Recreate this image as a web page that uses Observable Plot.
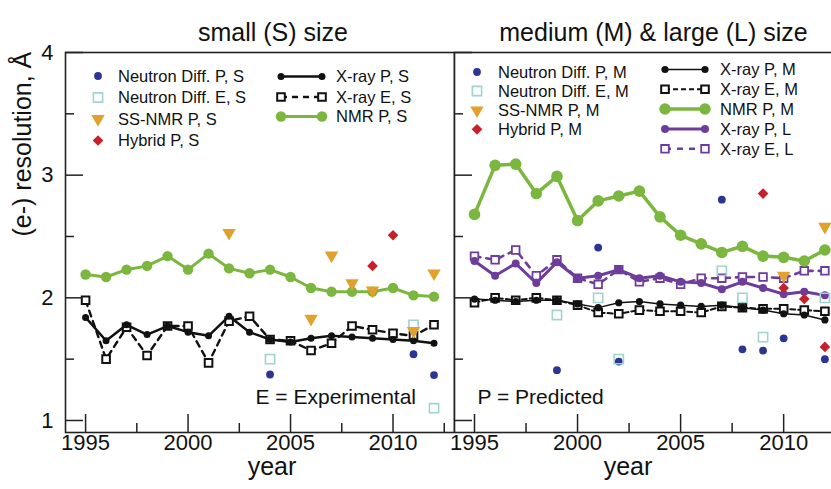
<!DOCTYPE html>
<html>
<head>
<meta charset="utf-8">
<script src="https://cdn.jsdelivr.net/npm/d3@7"></script>
<script src="https://cdn.jsdelivr.net/npm/@observablehq/plot@0.6"></script>
<style>
html, body { margin: 0; padding: 0; background: #fff; overflow: hidden; }
#chart { display: flex; flex-direction: row; width: 831px; height: 489px; overflow: hidden; }
#chart svg { flex: none; max-width: none; }
</style>
</head>
<body>
<div id="chart"></div>
<script>
const FONT = '"Liberation Sans", Arial, Helvetica, sans-serif';

// ---------- data ----------
const years = [1995, 1996, 1997, 1998, 1999, 2000, 2001, 2002, 2003, 2004, 2005, 2006, 2007, 2008, 2009, 2010, 2011, 2012];
const yTicks = [1, 2, 3, 4];
const yMinor = [1.5, 2.5, 3.5];
const xTicks = [1995, 2000, 2005, 2010];
const xMinor = [1997.5, 2002.5, 2007.5, 2012.5];

// small (S) size
const nmrPS  = [2.19, 2.17, 2.23, 2.26, 2.34, 2.23, 2.36, 2.24, 2.20, 2.23, 2.17, 2.08, 2.05, 2.05, 2.05, 2.08, 2.02, 2.01];
const xrayPS = [1.84, 1.65, 1.78, 1.70, 1.77, 1.72, 1.69, 1.85, 1.72, 1.66, 1.64, 1.67, 1.69, 1.68, 1.67, 1.66, 1.65, 1.63];
const xrayES = [1.98, 1.50, 1.76, 1.53, 1.77, 1.77, 1.47, 1.81, 1.85, 1.66, 1.65, 1.57, 1.63, 1.77, 1.74, 1.71, 1.69, 1.78];
const neutronPSYears = [2004, 2011, 2012];
const neutronPS      = [1.375, 1.54, 1.37];
const neutronESYears = [2004, 2011, 2012];
const neutronES      = [1.50, 1.78, 1.10];
const ssnmrPSYears = [2002, 2006, 2007, 2008, 2009, 2011, 2012];
const ssnmrPS      = [2.53, 1.83, 2.345, 2.12, 2.06, 1.73, 2.20];
const hybridPSYears = [2009, 2010];
const hybridPS      = [2.26, 2.51];

// medium (M) & large (L) size
const nmrPM  = [2.68, 3.08, 3.09, 2.85, 2.99, 2.63, 2.79, 2.83, 2.87, 2.66, 2.51, 2.44, 2.37, 2.42, 2.34, 2.33, 2.30, 2.39];
const xrayPM = [1.99, 1.98, 1.97, 1.98, 1.98, 1.95, 1.92, 1.96, 1.97, 1.95, 1.94, 1.93, 1.94, 1.92, 1.90, 1.87, 1.86, 1.82];
const xrayEM = [1.96, 2.00, 1.98, 2.00, 1.98, 1.94, 1.88, 1.87, 1.90, 1.89, 1.89, 1.88, 1.93, 1.92, 1.91, 1.91, 1.90, 1.89];
const xrayPL = [2.30, 2.18, 2.28, 2.12, 2.29, 2.16, 2.18, 2.23, 2.16, 2.18, 2.13, 2.12, 2.07, 2.13, 2.08, 2.03, 2.05, 2.02];
const xrayEL = [2.34, 2.31, 2.39, 2.18, 2.31, 2.16, 2.11, 2.23, 2.13, 2.16, 2.11, 2.16, 2.16, 2.17, 2.17, 2.16, 2.22, 2.22];
const neutronPMYears = [1999, 2001, 2002, 2007, 2008, 2009, 2010, 2012];
const neutronPM      = [1.41, 2.41, 1.48, 2.80, 1.58, 1.57, 1.67, 1.50];
const neutronEMYears = [1999, 2001, 2002, 2007, 2008, 2009, 2012];
const neutronEM      = [1.86, 2.00, 1.50, 2.22, 2.00, 1.68, 2.00];
const ssnmrPMYears = [2010, 2012];
const ssnmrPM      = [2.18, 2.58];
const hybridPMYears = [2009, 2010, 2011, 2012];
const hybridPM      = [2.85, 2.08, 1.99, 1.60];

const titles = ["small (S) size", "medium (M) & large (L) size"];
const xLabel = "year";
const yLabel = "(e-) resolution, Å";
const notes = ["E = Experimental", "P = Predicted"];

// ---------- styles ----------
const C = {green: "#7bb63f", navy: "#2c3593", teal: "#9fd4d1", orange: "#e2a12c", red: "#c8202a", purple: "#6e3d9b", black: "#111", axis: "#222"};
const ST = {
  neutronP: {symbol: "circle", r: 3.9, fill: C.navy},
  neutronE: {symbol: "square", r: 5.2, fill: "none", markerStroke: C.teal, markerStrokeWidth: 1.6},
  ssnmr:    {symbol: "triangle", r: 5, fill: C.orange, rotate: 180},
  hybrid:   {symbol: "diamond2", r: 4.8, fill: C.red},
  xrayPS:   {stroke: C.black, strokeWidth: 2.5, symbol: "circle", r: 3.5, fill: C.black},
  xrayES:   {stroke: C.black, strokeWidth: 2.4, dash: "6,5", symbol: "square", r: 4.3, fill: "white", markerStroke: C.black, markerStrokeWidth: 2},
  nmrPS:    {stroke: C.green, strokeWidth: 3, symbol: "circle", r: 5.2, fill: C.green},
  xrayPM:   {stroke: C.black, strokeWidth: 1.5, symbol: "circle", r: 3.6, fill: C.black},
  xrayEM:   {stroke: C.black, strokeWidth: 2, dash: "5,3", symbol: "square", r: 4.3, fill: "white", markerStroke: C.black, markerStrokeWidth: 2},
  nmrPM:    {stroke: C.green, strokeWidth: 3.5, symbol: "circle", r: 5.8, fill: C.green},
  xrayPL:   {stroke: C.purple, strokeWidth: 3, symbol: "circle", r: 4, fill: C.purple},
  xrayEL:   {stroke: C.purple, strokeWidth: 2.6, dash: "6,6", symbol: "square", r: 4.3, fill: "white", markerStroke: C.purple, markerStrokeWidth: 1.8}
};

const zip = (xs, vs) => xs.map((year, i) => ({year, value: vs[i]}));

function dots(data, s) {
  return Plot.dot(data, {x: "year", y: "value", symbol: s.symbol, r: s.r, fill: s.fill,
    stroke: s.markerStroke || "none", strokeWidth: s.markerStrokeWidth || 0, rotate: s.rotate || 0});
}
function series(data, s) {
  return [
    Plot.line(data, {x: "year", y: "value", stroke: s.stroke, strokeWidth: s.strokeWidth, strokeDasharray: s.dash || null}),
    dots(data, s)
  ];
}

const SYM = {circle: d3.symbolCircle, square: d3.symbolSquare, triangle: d3.symbolTriangle, diamond2: d3.symbolDiamond2};
function drawSymbol(g, x, y, s) {
  g.append("path")
    .attr("d", d3.symbol(SYM[s.symbol], Math.PI * s.r * s.r)())
    .attr("transform", `translate(${x},${y}) rotate(${s.rotate || 0})`)
    .attr("fill", s.fill)
    .attr("stroke", s.markerStroke || "none")
    .attr("stroke-width", s.markerStrokeWidth || 0);
}
function legendMark(items) {
  return () => {
    const g = d3.create("svg:g").attr("font-family", FONT).attr("font-size", 16.5)
      .attr("fill", "#111").attr("text-anchor", "start");
    for (const it of items) {
      if (it.x1 != null) {
        g.append("line").attr("x1", it.x1).attr("x2", it.x2).attr("y1", it.y).attr("y2", it.y)
          .attr("stroke", it.s.stroke).attr("stroke-width", it.s.strokeWidth)
          .attr("stroke-dasharray", it.s.dash || null);
        drawSymbol(g, it.x1, it.y, it.s);
        drawSymbol(g, it.x2, it.y, it.s);
      } else {
        drawSymbol(g, it.mx, it.y, it.s);
      }
      g.append("text").attr("x", it.tx).attr("y", it.y).attr("dy", "0.35em")
        .attr("text-anchor", "start").text(it.label);
    }
    return g.node();
  };
}

function frameMarks(plotW, plotH, withYLabels) {
  const m = [
    Plot.frame({stroke: C.axis, strokeWidth: 1.6}),
    Plot.tickY(yTicks, {stroke: C.axis, strokeWidth: 1.5, insetRight: plotW - 18}),
    Plot.tickY(yMinor, {stroke: C.axis, strokeWidth: 1.5, insetRight: plotW - 9}),
    Plot.tickX(xTicks, {stroke: C.axis, strokeWidth: 1.5, insetTop: plotH - 18}),
    Plot.tickX(xMinor, {stroke: C.axis, strokeWidth: 1.5, insetTop: plotH - 9}),
    Plot.axisX({ticks: xTicks, tickSize: 0, tickPadding: 2, tickFormat: d => String(d), fontSize: 22, label: null, fill: "#111"})
  ];
  if (withYLabels) m.push(Plot.axisY({ticks: yTicks, tickSize: 0, tickPadding: 12, tickFormat: d => String(d), fontSize: 22, label: null, fill: "#111"}));
  return m;
}

const Y_DOMAIN = [0.902, 4];

// ---------- left panel ----------
const leftW = 454, H = 489, mTop = 52, mBottom = 57;
const left = Plot.plot({
  width: leftW, height: H, marginLeft: 65, marginRight: 0, marginTop: mTop, marginBottom: mBottom,
  style: {fontFamily: FONT, color: "#111"},
  x: {domain: [1994.02, 2013.0]},
  y: {domain: Y_DOMAIN, axis: null},
  marks: [
    ...series(zip(years, xrayES), ST.xrayES),
    ...series(zip(years, xrayPS), ST.xrayPS),
    ...series(zip(years, nmrPS), ST.nmrPS),
    dots(zip(neutronPSYears, neutronPS), ST.neutronP),
    dots(zip(neutronESYears, neutronES), ST.neutronE),
    dots(zip(ssnmrPSYears, ssnmrPS), ST.ssnmr),
    dots(zip(hybridPSYears, hybridPS), ST.hybrid),
    ...frameMarks(leftW - 65, H - mTop - mBottom, true),
    Plot.text([titles[0]], {text: d => d, frameAnchor: "top", dx: 13, dy: -29, fontSize: 25, fill: "#111"}),
    Plot.text([xLabel], {text: d => d, frameAnchor: "bottom", dx: 12, dy: 42, fontSize: 25, fill: "#111"}),
    Plot.text([yLabel], {text: d => d, frameAnchor: "left", dx: -43, dy: -6, rotate: -90, fontSize: 25, fill: "#111"}),
    Plot.text([notes[0]], {text: d => d, frameAnchor: "bottom-left", textAnchor: "start", dx: 190, dy: -29, fontSize: 21, fill: "#111"}),
    legendMark([
      {mx: 98, tx: 118, y: 76, s: ST.neutronP, label: "Neutron Diff. P, S"},
      {mx: 98, tx: 118, y: 97.5, s: ST.neutronE, label: "Neutron Diff. E, S"},
      {mx: 98, tx: 118, y: 119, s: ST.ssnmr, label: "SS-NMR P, S"},
      {mx: 98, tx: 118, y: 140.5, s: ST.hybrid, label: "Hybrid P, S"},
      {x1: 281, x2: 322, tx: 336, y: 76.5, s: ST.xrayPS, label: "X-ray P, S"},
      {x1: 281, x2: 322, tx: 336, y: 97, s: ST.xrayES, label: "X-ray E, S"},
      {x1: 281, x2: 322, tx: 336, y: 116.5, s: ST.nmrPS, label: "NMR P, S"}
    ])
  ]
});

// ---------- right panel ----------
const rightW = 391;
const right = Plot.plot({
  width: rightW, height: H, marginLeft: 0, marginRight: 0, marginTop: mTop, marginBottom: mBottom,
  style: {fontFamily: FONT, color: "#111", overflow: "visible", background: "transparent"},
  x: {domain: [1994.03, 2013.0]},
  y: {domain: Y_DOMAIN, axis: null},
  marks: [
    ...series(zip(years, xrayEM), ST.xrayEM),
    ...series(zip(years, xrayPM), ST.xrayPM),
    ...series(zip(years, xrayEL), ST.xrayEL),
    ...series(zip(years, xrayPL), ST.xrayPL),
    ...series(zip(years, nmrPM), ST.nmrPM),
    dots(zip(neutronPMYears, neutronPM), ST.neutronP),
    dots(zip(neutronEMYears, neutronEM), ST.neutronE),
    dots(zip(ssnmrPMYears, ssnmrPM), ST.ssnmr),
    dots(zip(hybridPMYears, hybridPM), ST.hybrid),
    ...frameMarks(rightW, H - mTop - mBottom, false),
    Plot.text([titles[1]], {text: d => d, frameAnchor: "top", dx: 3.5, dy: -29, fontSize: 25, fill: "#111"}),
    Plot.text([xLabel], {text: d => d, frameAnchor: "bottom", dx: -22, dy: 42, fontSize: 25, fill: "#111"}),
    Plot.text([notes[1]], {text: d => d, frameAnchor: "bottom-left", textAnchor: "start", dx: 23, dy: -29, fontSize: 21, fill: "#111"}),
    legendMark([
      {mx: 23, tx: 44, y: 72, s: ST.neutronP, label: "Neutron Diff. P, M"},
      {mx: 23, tx: 44, y: 91, s: ST.neutronE, label: "Neutron Diff. E, M"},
      {mx: 23, tx: 44, y: 110.3, s: ST.ssnmr, label: "SS-NMR P, M"},
      {mx: 23, tx: 44, y: 129.3, s: ST.hybrid, label: "Hybrid P, M"},
      {x1: 211, x2: 251, tx: 266, y: 69.5, s: ST.xrayPM, label: "X-ray P, M"},
      {x1: 211, x2: 251, tx: 266, y: 89.3, s: ST.xrayEM, label: "X-ray E, M"},
      {x1: 211, x2: 251, tx: 266, y: 109, s: ST.nmrPM, label: "NMR P, M"},
      {x1: 211, x2: 251, tx: 266, y: 129, s: ST.xrayPL, label: "X-ray P, L"},
      {x1: 211, x2: 251, tx: 266, y: 148.8, s: ST.xrayEL, label: "X-ray E, L"}
    ])
  ]
});

const chart = document.getElementById("chart");
chart.appendChild(left);
chart.appendChild(right);
</script>
</body>
</html>
